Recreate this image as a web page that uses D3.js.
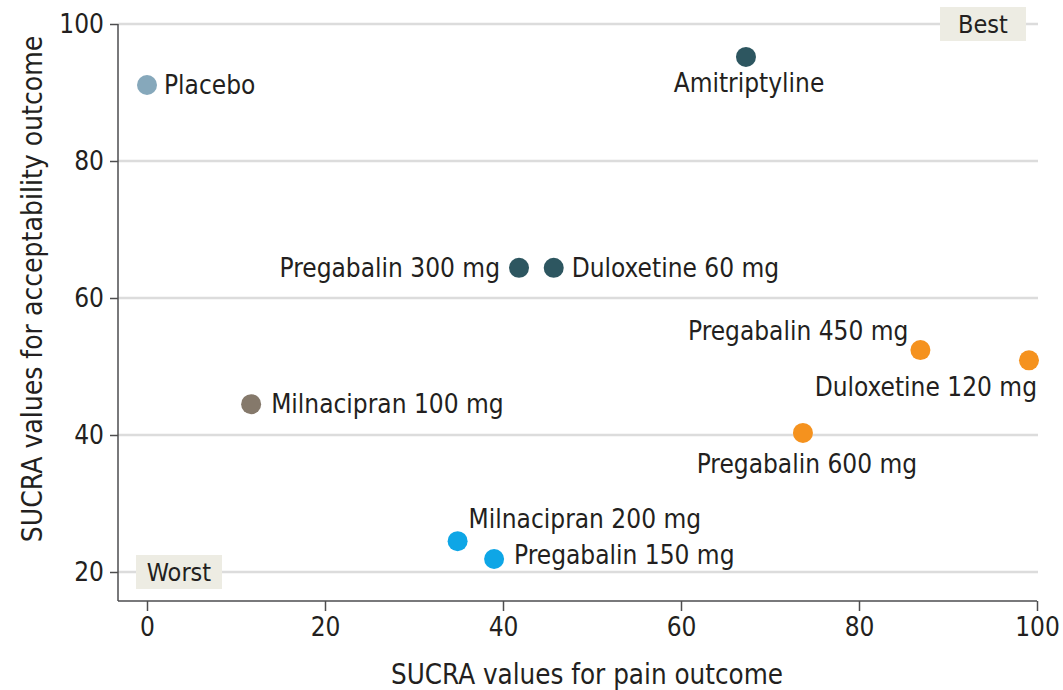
<!DOCTYPE html>
<html>
<head>
<meta charset="utf-8">
<script src="https://cdn.jsdelivr.net/npm/d3@7"></script>
<style>
  body { margin: 0; background: #fff; }
  text { font-family: "DejaVu Sans Condensed", "Liberation Sans Narrow", sans-serif; fill: #231f20; }
</style>
</head>
<body>
<svg id="chart"></svg>
<script>
// data
const treatments = ['Placebo', 'Amitriptyline', 'Pregabalin 300 mg', 'Duloxetine 60 mg', 'Pregabalin 450 mg',
  'Duloxetine 120 mg', 'Milnacipran 100 mg', 'Pregabalin 600 mg', 'Milnacipran 200 mg', 'Pregabalin 150 mg'];
const painSucra = [0, 67.3, 41.8, 45.7, 86.9, 99.1, 11.7, 73.7, 34.9, 39.0];
const acceptSucra = [91.1, 95.2, 64.4, 64.4, 52.4, 50.9, 44.5, 40.3, 24.5, 21.9];
const groups = ['placebo', 'dark', 'dark', 'dark', 'orange', 'orange', 'brown', 'orange', 'blue', 'blue'];
const xTicks = [0, 20, 40, 60, 80, 100];
const yTicks = [20, 40, 60, 80, 100];

const colors = { placebo: '#86a8bb', dark: '#2d5660', orange: '#f5921e', brown: '#85796b', blue: '#0ea6e6' };

// label placement: [anchor, dx, dy]
const labelPos = {
  'Placebo': ['start', 17, 9],
  'Amitriptyline': ['middle', 3, 35],
  'Pregabalin 300 mg': ['end', -19, 9],
  'Duloxetine 60 mg': ['start', 18, 9],
  'Pregabalin 450 mg': ['end', -12, -10],
  'Duloxetine 120 mg': ['end', 8, 36],
  'Milnacipran 100 mg': ['start', 20, 9],
  'Pregabalin 600 mg': ['middle', 4, 40],
  'Milnacipran 200 mg': ['start', 11, -13],
  'Pregabalin 150 mg': ['start', 20, 5]
};

const width = 1063, height = 690;
const svg = d3.select('#chart').attr('width', width).attr('height', height);

const x = d3.scaleLinear().domain([0, 100]).range([147, 1037]);
const y = d3.scaleLinear().domain([20, 100]).range([572, 24]);
const axisX = 118, axisY = 601;

// gridlines
svg.append('g')
  .selectAll('line')
  .data(yTicks)
  .join('line')
  .attr('x1', axisX).attr('x2', 1038)
  .attr('y1', d => y(d)).attr('y2', d => y(d))
  .attr('stroke', '#dcdcdc')
  .attr('stroke-width', 2.5);

// left axis
const yAxis = svg.append('g')
  .attr('transform', `translate(${axisX},0)`)
  .call(d3.axisLeft(y).tickValues(yTicks).tickSize(8).tickPadding(6));
yAxis.select('.domain').attr('d', `M0,${y(100)}V${axisY}`);

// bottom axis
const xAxis = svg.append('g')
  .attr('transform', `translate(0,${axisY})`)
  .call(d3.axisBottom(x).tickValues(xTicks).tickSize(10).tickPadding(7));
xAxis.select('.domain').attr('d', `M${axisX},0H${x(100)}`);

svg.selectAll('.domain').attr('stroke', '#4d4d4f').attr('stroke-width', 1.5);
svg.selectAll('.tick line').attr('stroke', '#4d4d4f').attr('stroke-width', 1.5);
svg.selectAll('.tick text').attr('font-size', 26).attr('fill', '#231f20')
  .style('font-family', '"DejaVu Sans Condensed", sans-serif');

// corner tags
const tags = [['Best', 983, y(100)], ['Worst', 179, y(20)]];
tags.forEach(([t, cx, cy]) => {
  svg.append('rect')
    .attr('x', cx - 43).attr('y', cy - 17)
    .attr('width', 86).attr('height', 34)
    .attr('fill', '#edece3');
  svg.append('text')
    .attr('x', cx).attr('y', cy + 9)
    .attr('text-anchor', 'middle')
    .attr('font-size', 25)
    .text(t);
});

// axis titles
svg.append('text')
  .attr('x', 587).attr('y', 684)
  .attr('text-anchor', 'middle')
  .attr('font-size', 27.5)
  .text('SUCRA values for pain outcome');

svg.append('text')
  .attr('transform', 'translate(42,289) rotate(-90)')
  .attr('text-anchor', 'middle')
  .attr('font-size', 28)
  .text('SUCRA values for acceptability outcome');

// points
const pts = treatments.map((t, i) => ({ name: t, px: painSucra[i], ay: acceptSucra[i], g: groups[i] }));

svg.append('g')
  .selectAll('circle')
  .data(pts)
  .join('circle')
  .attr('cx', d => x(d.px))
  .attr('cy', d => y(d.ay))
  .attr('r', 10)
  .attr('fill', d => colors[d.g]);

svg.append('g')
  .selectAll('text')
  .data(pts)
  .join('text')
  .attr('x', d => x(d.px) + labelPos[d.name][1])
  .attr('y', d => y(d.ay) + labelPos[d.name][2])
  .attr('text-anchor', d => labelPos[d.name][0])
  .attr('font-size', 26)
  .text(d => d.name);
</script>
</body>
</html>
